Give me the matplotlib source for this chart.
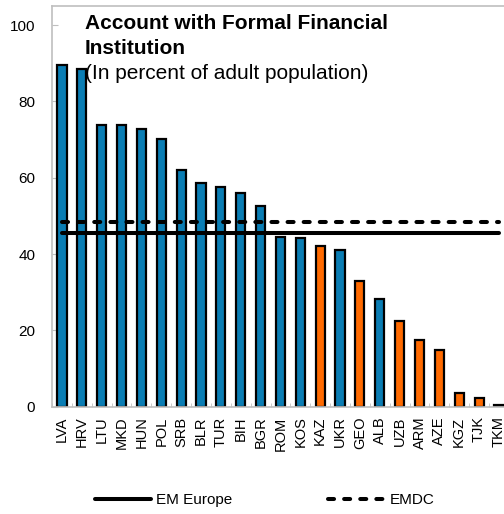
import matplotlib
matplotlib.use("Agg")
import matplotlib.pyplot as plt
import numpy as np

countries = ["LVA", "HRV", "LTU", "MKD", "HUN", "POL", "SRB", "BLR", "TUR", "BIH",
             "BGR", "ROM", "KOS", "KAZ", "UKR", "GEO", "ALB", "UZB", "ARM", "AZE",
             "KGZ", "TJK", "TKM"]
values = [89.6, 88.4, 73.7, 73.7, 72.7, 70.2, 62.1, 58.6, 57.5, 56.1,
          52.7, 44.5, 44.2, 42.0, 41.1, 32.9, 28.2, 22.4, 17.4, 14.8,
          3.7, 2.4, 0.4]
# CIS countries shown in orange
cis = ["KAZ", "GEO", "UZB", "ARM", "AZE", "KGZ", "TJK", "TKM"]
em_europe = 45.6
emdc = 48.4

plt.rcParams["font.family"] = ["Liberation Sans", "DejaVu Sans"]

blue = "#0A7DB4"
orange = "#FF6A00"
grey = "#BFBFBF"

fig = plt.figure(figsize=(5.04, 5.14), dpi=100)
ax = fig.add_axes([52 / 504, 107.3 / 514, 456.9 / 504, 400.7 / 514])

x = np.arange(len(countries))
colors = [orange if c in cis else blue for c in countries]
ax.bar(x, values, width=0.46, color=colors, edgecolor="black", linewidth=1.6, zorder=2)

xs = np.array([0, len(countries) - 1])
ax.plot(xs, [em_europe] * 2, color="black", lw=2.9, solid_capstyle="round",
        zorder=3, label="EM Europe")
ax.plot(xs, [emdc] * 2, color="black", lw=2.9, linestyle=(0, (1.5, 2.5)),
        dash_capstyle="round", zorder=3, label="EMDC")

ax.set_xlim(-0.5, len(countries) - 0.5)
ax.set_ylim(0, 105)
ax.set_yticks([0, 20, 40, 60, 80, 100])
ax.set_xticks(x)
ax.set_xticklabels(countries, rotation=90, fontsize=10.5)
ax.set_xticks(np.arange(len(countries) + 1) - 0.5, minor=True)
ax.tick_params(axis="x", which="major", length=0, pad=7)
ax.tick_params(axis="x", which="minor", direction="in", length=3, color=grey)
ax.tick_params(axis="y", direction="in", length=4, color=grey, labelsize=11, pad=12)
for s in ["left", "top", "bottom"]:
    ax.spines[s].set_color(grey)
    ax.spines[s].set_linewidth(1.2)
ax.spines["right"].set_visible(False)

fig.text(85 / 504, 1 - 14 / 514, "Account with Formal Financial\nInstitution",
         fontsize=15, fontweight="bold", va="top", ha="left", linespacing=1.4)
fig.text(85 / 504, 1 - 64 / 514, "(In percent of adult population)",
         fontsize=15, va="top", ha="left")

fig.legend(loc="center", bbox_to_anchor=(0.525, 0.027), ncol=2, frameon=False,
           fontsize=11, handlelength=3.7, columnspacing=6.3, handletextpad=0.3)

fig.savefig("out.png", dpi=100)
